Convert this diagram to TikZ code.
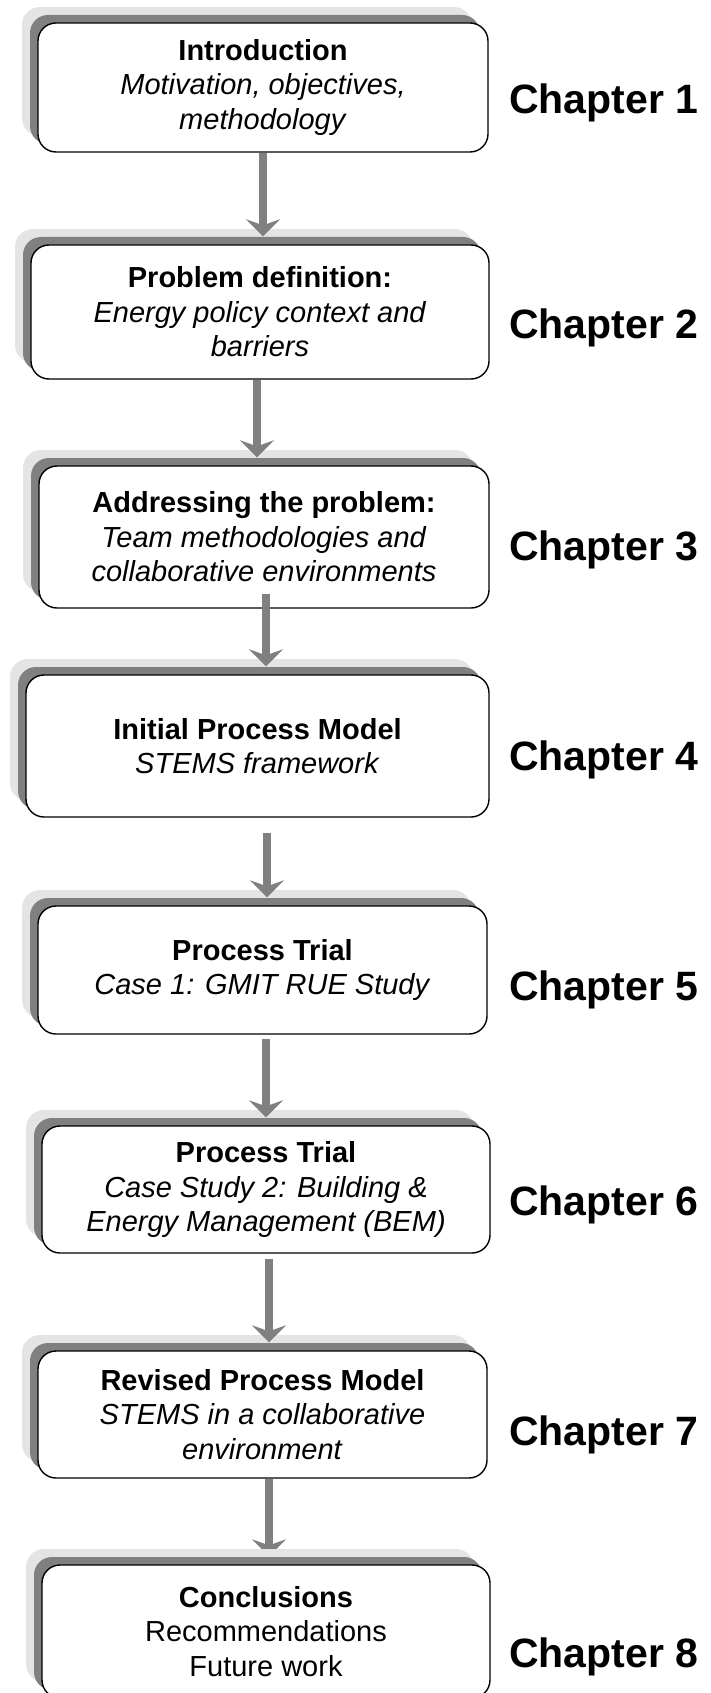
\documentclass[tikz,border=0pt]{standalone}
\usepackage{fontspec}
\setmainfont{Liberation Sans}
\usetikzlibrary{arrows.meta,shadows}
\definecolor{shadowdark}{RGB}{128,128,128}
\definecolor{shadowlight}{RGB}{228,228,228}
\definecolor{arrowgray}{RGB}{128,128,128}
\pgfdeclarelayer{behind}
\pgfsetlayers{behind,main}
\begin{document}
\begin{tikzpicture}[x=1pt,y=-1pt,
  chapbox/.style={draw=black, line width=1.4pt, fill=white, rounded corners=18pt,
    inner sep=0pt, align=center, font=\fontsize{29}{34.5}\selectfont,
    copy shadow={shadow xshift=-16pt, shadow yshift=16pt, fill=shadowlight, draw=none},
    copy shadow={shadow xshift=-8pt, shadow yshift=8pt, fill=shadowdark, draw=none}},
  chaplabel/.style={anchor=base west, inner sep=0pt, font=\fontsize{41}{41}\selectfont\bfseries},
  flowarrow/.style={draw=arrowgray, line width=8pt,
    -{Stealth[length=17pt,width=34pt,inset=6pt,fill=arrowgray]}}]
\useasboundingbox (0,0) rectangle (711,1693);

\node[chapbox, minimum width=450pt, minimum height=129pt] (b1) at (263,87.5)
  {\textbf{Introduction}\\\textit{Motivation, objectives,}\\\textit{methodology}};
\node[chapbox, minimum width=458pt, minimum height=134pt] (b2) at (260,312)
  {\textbf{Problem definition:}\\\textit{Energy policy context and}\\\textit{barriers}};
\node[chapbox, minimum width=450pt, minimum height=142pt] (b3) at (264,537)
  {\textbf{Addressing the problem:}\\\textit{Team methodologies and}\\\textit{collaborative environments}};
\node[chapbox, minimum width=463pt, minimum height=142pt] (b4) at (257.5,746)
  {\textbf{Initial Process Model}\\\textit{STEMS framework}};
\node[chapbox, minimum width=449pt, minimum height=128pt] (b5) at (262.5,970)
  {\textbf{Process Trial}\\\textit{Case 1: GMIT RUE Study}};
\node[chapbox, minimum width=448pt, minimum height=127pt] (b6) at (266,1189.5)
  {\textbf{Process Trial}\\\textit{Case Study 2: Building \&}\\\textit{Energy Management (BEM)}};
\node[chapbox, minimum width=449pt, minimum height=127pt] (b7) at (262.5,1414.5)
  {\textbf{Revised Process Model}\\\textit{STEMS in a collaborative}\\\textit{environment}};
\node[chapbox, minimum width=448pt, minimum height=133pt] (b8) at (266,1631.5)
  {\textbf{Conclusions}\\Recommendations\\Future work};

\node[chaplabel] (c1) at (509,114) {Chapter 1};
\node[chaplabel] (c2) at (509,338) {Chapter 2};
\node[chaplabel] (c3) at (509,560) {Chapter 3};
\node[chaplabel] (c4) at (509,770) {Chapter 4};
\node[chaplabel] (c5) at (509,1000) {Chapter 5};
\node[chaplabel] (c6) at (509,1215) {Chapter 6};
\node[chaplabel] (c7) at (509,1445) {Chapter 7};
\node[chaplabel] (c8) at (509,1667) {Chapter 8};

\draw[flowarrow] (b1.south) -- ([xshift=3pt,yshift=8pt]b2.north);
\draw[flowarrow] ([xshift=-3pt]b2.south) -- ([xshift=-7pt,yshift=8pt]b3.north);
\draw[flowarrow] ([xshift=2pt,yshift=15pt]b3.south) -- ([xshift=8.5pt,yshift=8pt]b4.north);
\draw[flowarrow] ([xshift=9.5pt,yshift=-15pt]b4.south) -- ([xshift=4.5pt,yshift=8pt]b5.north);
\draw[flowarrow] ([xshift=3.5pt,yshift=-4pt]b5.south) -- ([yshift=8pt]b6.north);
\draw[flowarrow] ([xshift=3pt,yshift=-5pt]b6.south) -- ([xshift=6.5pt,yshift=8pt]b7.north);
\begin{pgfonlayer}{behind}
\draw[flowarrow] ([xshift=6.5pt]b7.south) -- ([xshift=3pt,yshift=8pt]b8.north);
\end{pgfonlayer}
\end{tikzpicture}
\end{document}
